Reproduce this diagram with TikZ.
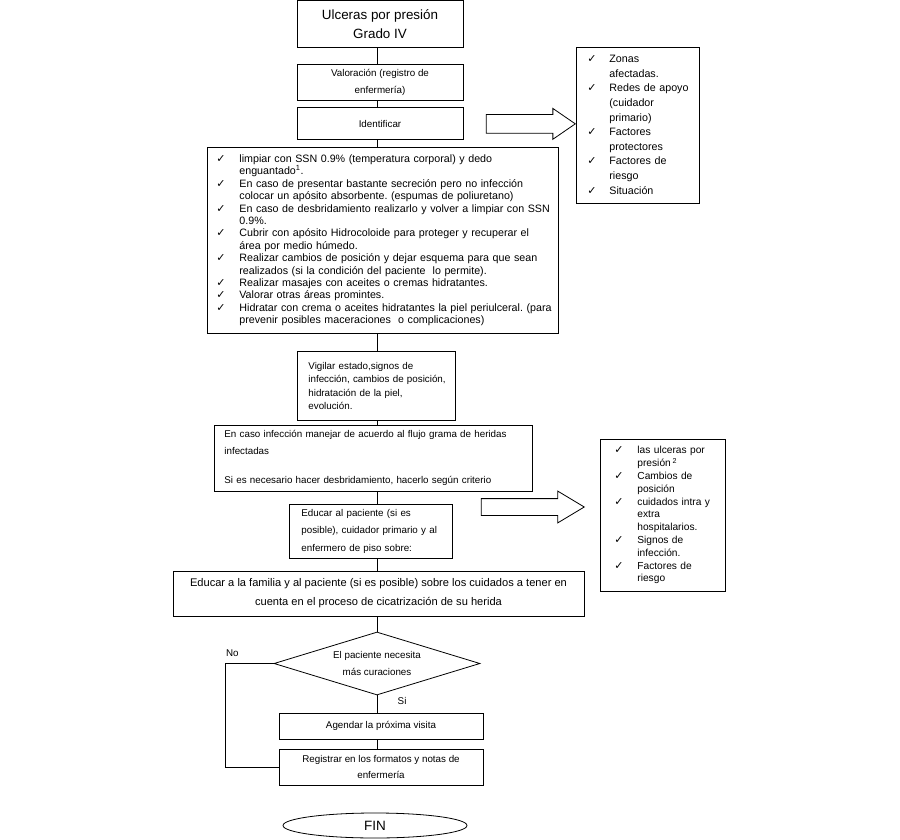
\documentclass[tikz,border=0pt]{standalone}
\usepackage{fontspec}
\setmainfont{Liberation Sans}
\newfontfamily\chkfont{DejaVu Sans}
\usetikzlibrary{shapes.geometric, shapes.arrows, positioning}

\newcommand{\chk}{{\chkfont\fontsize{11}{11}\selectfont ✓}}
\frenchspacing

\begin{document}
\begin{tikzpicture}[
        x=1pt, y=-1pt,
        line width=0.8pt,
        box/.style={rectangle, draw, fill=white, inner sep=0pt, align=center},
        small/.style={font=\fontsize{9.8}{17}\selectfont},
        lst/.style={rectangle, draw, fill=white, inner xsep=#1, inner ysep=0pt, align=left, anchor=north west},
        blockarr/.style={single arrow, draw, fill=white, inner sep=0pt, anchor=tip},
    ]
    \fill[white] (0,0) rectangle (900,840);
    \useasboundingbox (0,0) rectangle (900,840);
    \coordinate (trunk) at (377,0);

    \node[box, minimum width=166pt, minimum height=46.5pt, font=\fontsize{13.4}{19}\selectfont] (title) at (380,24) {Ulceras por presión\\Grado IV};
    \node[box, small, minimum width=166pt, minimum height=36pt, below=16pt of title] (valor) {Valoración (registro de\\enfermería)};
    \node[box, small, minimum width=166pt, minimum height=32pt, below=7pt of valor] (ident) {Identificar};

    \node[lst=11pt, text width=101pt, minimum height=156pt, font=\fontsize{10.7}{14.6}\selectfont] (zonas) at (576,47) {%
        \begin{tabular}{@{}p{22pt}@{}l@{}}
        \chk & Zonas\\
             & afectadas.\\
        \chk & Redes de apoyo\\
             & (cuidador\\
             & primario)\\
        \chk & Factores\\
             & protectores\\
        \chk & Factores de\\
             & riesgo\\
        \chk & Situación
        \end{tabular}};
    \node[blockarr, minimum height=89pt, inner ysep=9pt, single arrow head extend=6pt, single arrow tip angle=69] (arrA) at (ident.east -| zonas.west) {};

    \node[lst=9pt, text width=333pt, minimum height=186pt, font=\fontsize{10.7}{12.4}\selectfont] (cuid) at (207,147) {%
        \begin{tabular}{@{}p{23pt}@{}l@{}}
        \chk & limpiar con SSN 0.9\% (temperatura corporal) y dedo\\
             & enguantado\textsuperscript{1}.\\
        \chk & En caso de presentar bastante secreción pero no infección\\
             & colocar un apósito absorbente. (espumas de poliuretano)\\
        \chk & En caso de desbridamiento realizarlo y volver a limpiar con SSN\\
             & 0.9\%.\\
        \chk & Cubrir con apósito Hidrocoloide para proteger y recuperar el\\
             & área por medio húmedo.\\
        \chk & Realizar cambios de posición y dejar esquema para que sean\\
             & realizados (si la condición del paciente \ lo permite).\\
        \chk & Realizar masajes con aceites o cremas hidratantes.\\
        \chk & Valorar otras áreas promintes.\\
        \chk & Hidratar con crema o aceites hidratantes la piel periulceral. (para\\
             & prevenir posibles maceraciones \ o complicaciones)
        \end{tabular}};

    \node[lst=11pt, text width=136pt, minimum height=69pt, font=\fontsize{9.8}{13.5}\selectfont] (vigil) at (297,351) {Vigilar estado,signos de\\\mbox{infección, cambios de posición,}\\hidratación de la piel,\\evolución.};
    \node[lst=10pt, text width=298pt, minimum height=66pt, small] (infec) at (214,425) {En caso infección manejar de acuerdo al flujo grama de heridas\\infectadas\\[12pt]Si es necesario hacer desbridamiento, hacerlo según criterio};

    \node[lst=14pt, text width=97pt, minimum height=152pt, font=\fontsize{10.2}{12.8}\selectfont] (temas) at (600,439) {%
        \begin{tabular}{@{}p{23pt}@{}l@{}}
        \chk & las ulceras por\\
             & presión\,\textsuperscript{2}\\
        \chk & Cambios de\\
             & posición\\
        \chk & cuidados intra y\\
             & extra\\
             & hospitalarios.\\
        \chk & Signos de\\
             & infección.\\
        \chk & Factores de\\
             & riesgo
        \end{tabular}};
    \node[blockarr, minimum height=103pt, inner ysep=8pt, single arrow head extend=7.5pt, single arrow tip angle=62] (arrB) at (585,507) {};

    \node[lst=12pt, text width=139pt, minimum height=54pt, font=\fontsize{9.8}{17.5}\selectfont] (educ) at (289,504) {Educar al paciente (si es\\\mbox{posible), cuidador primario y al}\\enfermero de piso sobre:};
    \node[box, minimum width=411pt, minimum height=45pt, font=\fontsize{11.1}{19}\selectfont] (famil) at (378.5,593.5) {Educar a la familia y al paciente (si es posible) sobre los cuidados a tener en\\cuenta en el proceso de cicatrización de su herida};

    \node[diamond, draw, fill=white, inner sep=0pt, minimum width=206pt, minimum height=63pt, aspect=3.27, align=center, small] (need) at (377,663.5) {El paciente necesita\\más curaciones};
    \node[box, small, minimum width=204pt, minimum height=26pt] (agenda) at (381,726) {Agendar la próxima visita};
    \node[box, minimum width=204pt, minimum height=36pt, font=\fontsize{9.8}{16}\selectfont] (regist) at (381,767) {Registrar en los formatos y notas de\\enfermería};
    \node[ellipse, draw, fill=white, inner sep=0pt, minimum width=184pt, minimum height=25pt, font=\fontsize{13.5}{16}\selectfont] (fin) at (375,825.5) {FIN};

    \draw (title.south -| trunk) -- (valor.north -| trunk);
    \draw (valor.south -| trunk) -- (ident.north -| trunk);
    \draw (ident.south -| trunk) -- (cuid.north -| trunk);
    \draw (cuid.south -| trunk) -- (vigil.north -| trunk);
    \draw (vigil.south -| trunk) -- (infec.north -| trunk);
    \draw (infec.south -| trunk) -- (educ.north -| trunk);
    \draw (educ.south -| trunk) -- (famil.north -| trunk);
    \draw (famil.south -| trunk) -- (need.north);
    \draw (need.south) -- node[pos=0.35, right, xshift=17pt, small] {Si} (agenda.north -| need.south);
    \draw (agenda.south -| trunk) -- (regist.north -| trunk);
    \draw (need.west) -- ++(-48,0) node[above right, inner xsep=0pt, inner ysep=7pt, small] {No} |- (regist.west);
\end{tikzpicture}
\end{document}
